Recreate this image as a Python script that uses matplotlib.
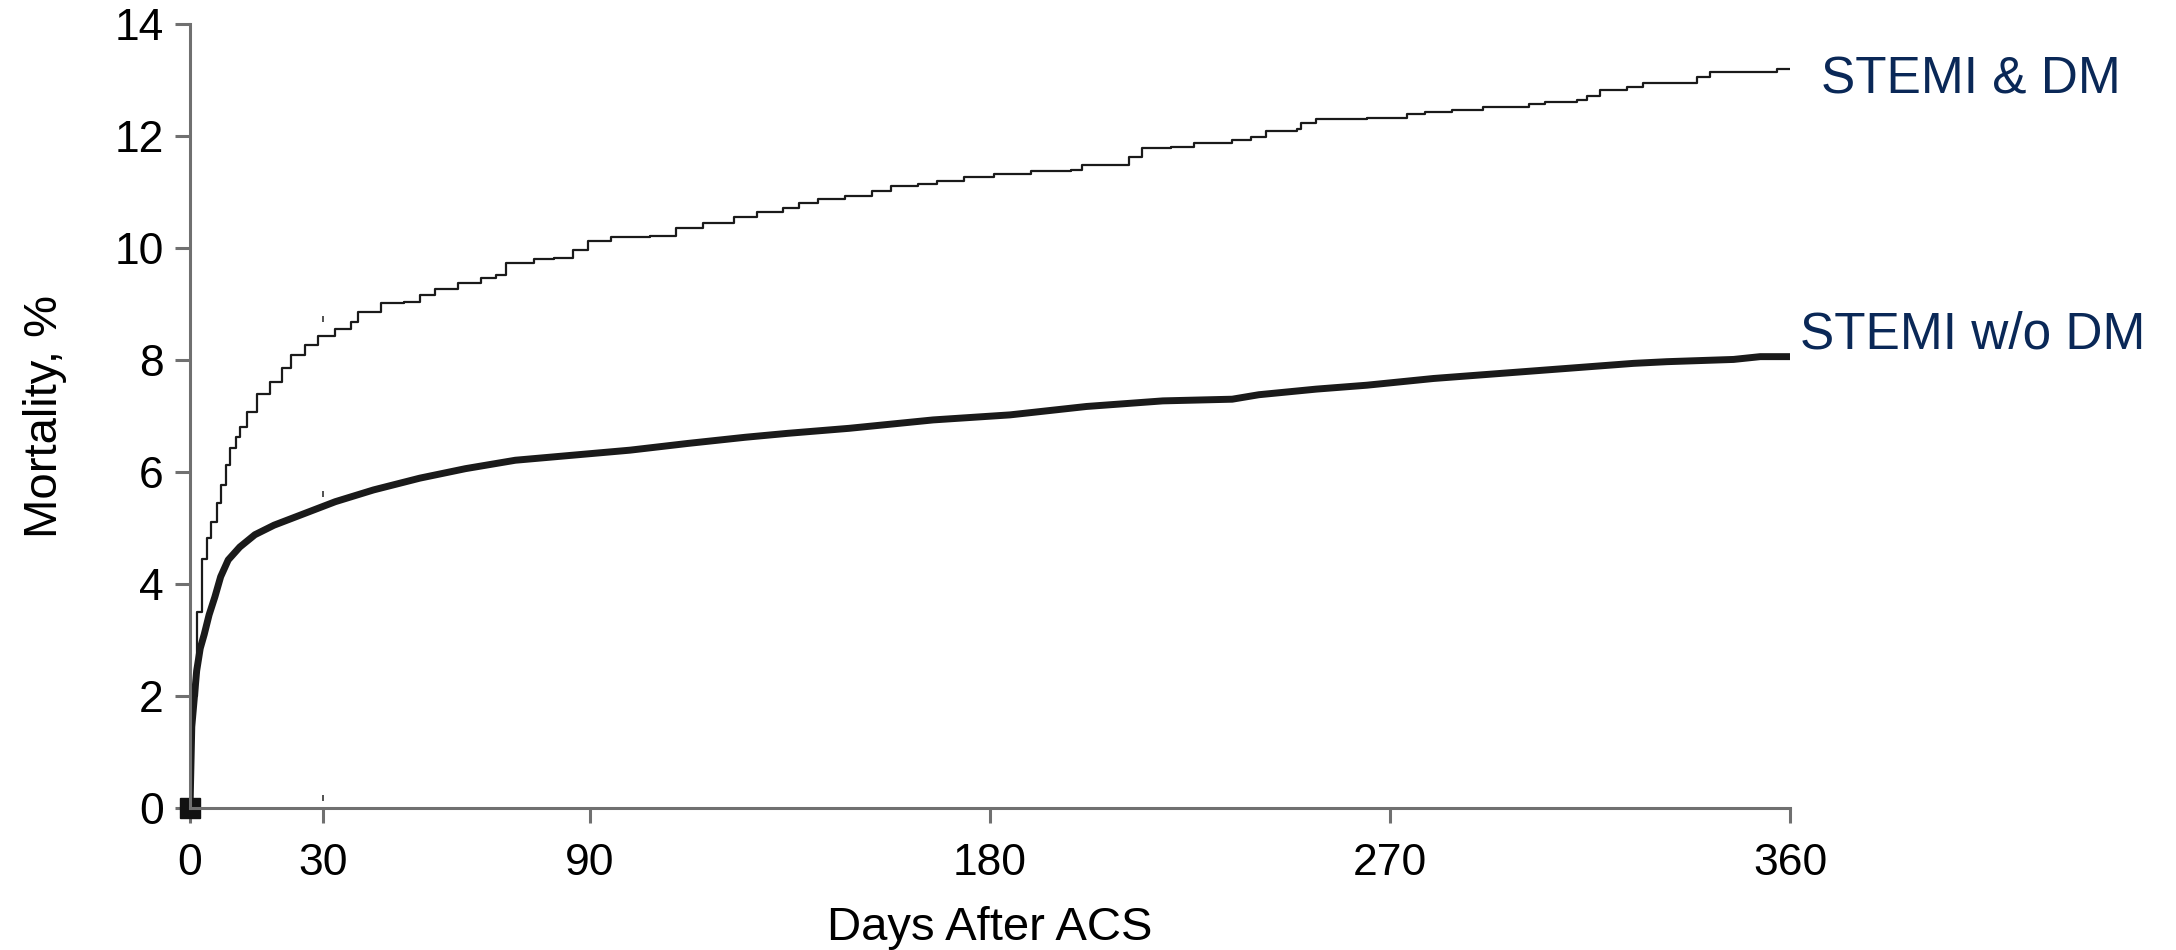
import matplotlib.pyplot as plt

# curvas de mortalidad (días, %)
days_dm = [0, 0.5, 1.5, 2.6, 3.9, 4.7, 6.0, 6.9, 8.2, 9.0, 10.3, 11.2, 12.9, 15.1,
           18.1, 20.7, 22.8, 25.8, 28.9, 32.7, 36.2, 37.9, 43, 48.2, 51.7, 55.1,
           60.3, 65.5, 68.9, 71.1, 77.5, 81.8, 86.1, 89.6, 94.7, 103.4, 109.4,
           115.4, 122.3, 127.5, 133.5, 137, 141.4, 147.4, 153.4, 157.7, 163.8,
           168.1, 174.1, 181, 189.2, 198.3, 200.8, 211.2, 214.2, 220.7, 225.8,
           234.5, 238.8, 242.2, 249.1, 250, 253.4, 264.8, 273.8, 277.9, 283.9,
           291, 301.2, 304.9, 312, 314.3, 317.3, 323.3, 327, 339, 342, 357, 360]
mort_dm = [0, 2.0, 3.5, 4.45, 4.82, 5.1, 5.44, 5.77, 6.12, 6.42, 6.63, 6.81, 7.08, 7.4,
           7.61, 7.85, 8.09, 8.27, 8.42, 8.56, 8.68, 8.86, 9.01, 9.04, 9.16, 9.26,
           9.37, 9.46, 9.52, 9.73, 9.8, 9.82, 9.96, 10.13, 10.2, 10.21, 10.35,
           10.44, 10.56, 10.65, 10.72, 10.8, 10.87, 10.92, 11.01, 11.1, 11.14,
           11.19, 11.27, 11.33, 11.38, 11.39, 11.48, 11.63, 11.78, 11.8, 11.87,
           11.93, 11.99, 12.09, 12.12, 12.24, 12.3, 12.33, 12.39, 12.43, 12.46,
           12.51, 12.58, 12.61, 12.65, 12.71, 12.82, 12.88, 12.95, 13.05, 13.15, 13.19, 13.19]

days_nodm = [0, 0.4, 1.5, 2.3, 3.2, 4.3, 5.6, 6.9, 8.6, 11.2, 14.6, 18.9, 25.8, 32.7,
             41.3, 51.7, 62, 73.2, 86.1, 99, 112, 124.9, 134.4, 148.3, 167.2, 184.5,
             201.7, 218.9, 234.5, 240.5, 253.4, 264.8, 279.8, 294.8, 309.8, 324.8,
             332.3, 347.3, 353.3, 360]
mort_nodm = [0, 1.45, 2.45, 2.85, 3.1, 3.45, 3.77, 4.13, 4.43, 4.66, 4.88, 5.05, 5.26, 5.47,
             5.68, 5.89, 6.06, 6.21, 6.3, 6.39, 6.51, 6.62, 6.69, 6.78, 6.93, 7.02,
             7.17, 7.27, 7.3, 7.38, 7.48, 7.55, 7.67, 7.76, 7.85, 7.94,
             7.97, 8.01, 8.06, 8.06]

# pequeñas marcas a 30 días
marks_x = [30, 30, 30]
marks_y = [8.73, 5.6, 0.18]

xticks = [0, 30, 90, 180, 270, 360]
yticks = [0, 2, 4, 6, 8, 10, 12, 14]

plt.rcParams['font.family'] = ['Liberation Sans', 'DejaVu Sans']

fig = plt.figure(figsize=(21.76, 9.5), dpi=100)
ax = fig.add_axes([190 / 2176, 142 / 950, 1600 / 2176, 784 / 950])

ax.step(days_dm, mort_dm, where='post', color='#1a1a1a', linewidth=1.6)
ax.plot(days_nodm, mort_nodm, color='#1a1a1a', linewidth=5)
ax.plot([0], [0], marker='s', markersize=14, color='#111111', clip_on=False)
ax.plot(marks_x, marks_y, linestyle='none', marker='|', markersize=5,
        color='#333333', markeredgewidth=1.2)

ax.set_xlim(0, 360)
ax.set_ylim(0, 14)
ax.set_xticks(xticks)
ax.set_yticks(yticks)

gris = '#707070'
for s in ['top', 'right']:
    ax.spines[s].set_visible(False)
for s in ['left', 'bottom']:
    ax.spines[s].set_color(gris)
    ax.spines[s].set_linewidth(2.2)

ax.tick_params(axis='both', colors=gris, width=2.2, length=11,
               labelsize=32, labelcolor='black')
ax.tick_params(axis='y', pad=8)
ax.tick_params(axis='x', pad=14)

ax.set_xlabel('Days After ACS', fontsize=34, labelpad=16)
ax.set_ylabel('Mortality, %', fontsize=34, labelpad=34)

azul = '#0a2857'
ax.text(367, 12.75, 'STEMI & DM', fontsize=37, color=azul,
        ha='left', va='baseline', clip_on=False)
ax.text(362.3, 8.21, 'STEMI w/o DM', fontsize=37, color=azul,
        ha='left', va='baseline', clip_on=False)

fig.savefig('out.png', dpi=100)
